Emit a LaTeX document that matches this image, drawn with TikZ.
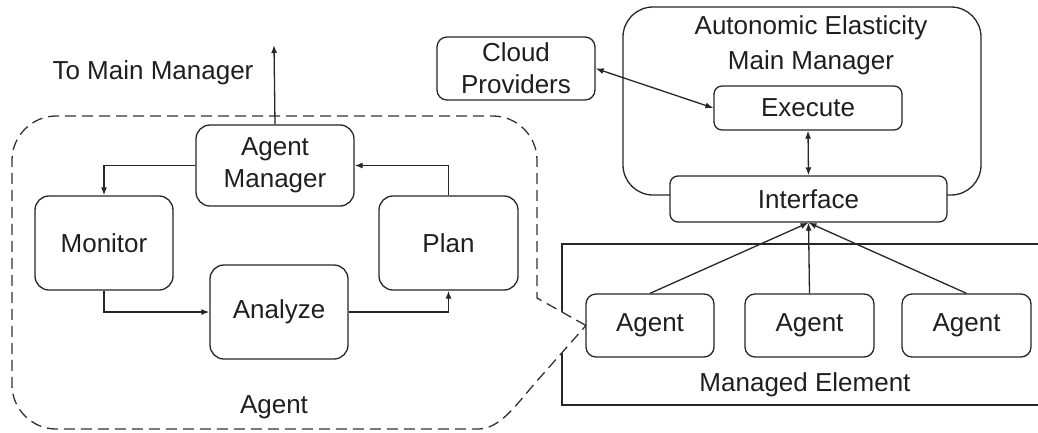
\documentclass[tikz,border=0pt]{standalone}
\usepackage{fontspec}
\setmainfont{Liberation Sans}
\usetikzlibrary{arrows.meta}
\begin{document}
\begin{tikzpicture}[x=1pt,y=-1pt,
  line width=1.3pt,
  every node/.style={font=\fontsize{26}{32}\selectfont, text=black!88},
  blk/.style={draw=black!85, rounded corners=#1, align=center, inner sep=0pt, fill=white},
  plainline/.style={draw=black!85},
  arr/.style={draw=black!85, -{Latex[length=8pt,width=6pt]}},
  darr/.style={draw=black!85, {Latex[length=8pt,width=6pt]}-{Latex[length=8pt,width=6pt]}},
  dashbound/.style={draw=black!80, dash pattern=on 11pt off 6pt, fill=white}]
\useasboundingbox (0,0) rectangle (1038,432);

% Managed element frame (open to the right)
\draw[plainline] (1038,244) -- (562,244) -- (562,405) -- (1038,405);
\node (melabel) at (805,385) {Managed Element};

% dashed agent callout
\coordinate (tip) at (586,325.5);
\draw[dashbound] (tip) -- (537,298) -- (537,160)
  .. controls (537,136) and (517,116) .. (493,116) -- (56,116)
  .. controls (32,116) and (12,136) .. (12,160) -- (12,385)
  .. controls (12,409) and (32,429) .. (56,429) -- (478,429)
  .. controls (500,429) and (516,405) .. (536,382) -- cycle;

% agent internals
\node[blk=14pt, minimum width=158pt, minimum height=81pt] (am) at (275,165.5) {Agent\\Manager};
\node[blk=14pt, minimum width=138pt, minimum height=94pt] (mon) at (104,243) {Monitor};
\node[blk=14pt, minimum width=139pt, minimum height=94pt] (plan) at (448.5,243) {Plan};
\node[blk=14pt, minimum width=138pt, minimum height=94pt] (ana) at (279,312) {Analyze};
\node (agentlabel) at (274,407) {Agent};
\node (tomm) at (153,73) {To Main Manager};
\coordinate (up) at (274,45);

\draw[arr] (am.west) -| (mon.north);
\draw[arr] (mon.south) |- (ana.west);
\draw[arr] (ana.east) -| (plan.south);
\draw[arr] (plan.north) |- (am.east);
\draw[arr] (am.north) -- (up);

% main manager
\node[blk=10pt, minimum width=158pt, minimum height=63pt] (cloud) at (516,68.5) {Cloud\\Providers};
\node[draw=black!85, rounded corners=30pt, minimum width=358pt, minimum height=188pt, inner sep=0pt] (mm) at (802,101) {};
\node[align=center, font=\fontsize{26}{35}\selectfont] (mmtitle) at (811,45) {Autonomic Elasticity\\Main Manager};
\node[blk=8pt, minimum width=188pt, minimum height=44pt] (exe) at (808,108) {Execute};
\node[blk=8pt, minimum width=277pt, minimum height=46pt] (iface) at (808.5,199) {Interface};

\draw[darr] (cloud.east) -- (exe.west);
\draw[darr] (exe.south) -- (iface.north);

% managed agents
\node[blk=10pt, minimum width=128pt, minimum height=63pt] (a1) at (650,325.5) {Agent};
\node[blk=10pt, minimum width=129pt, minimum height=63pt] (a2) at (809.5,325.5) {Agent};
\node[blk=10pt, minimum width=129pt, minimum height=63pt] (a3) at (966.5,325.5) {Agent};

\draw[arr] (a1.north) -- (iface.south);
\draw[arr] (a2.north) -- (iface.south);
\draw[arr] (a3.north) -- (iface.south);
\end{tikzpicture}
\end{document}
